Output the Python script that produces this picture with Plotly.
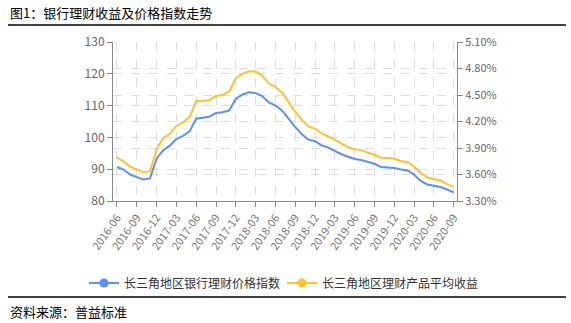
import pandas as pd
import plotly.graph_objects as go

# Monthly periods, 2016-06 .. 2020-09
months = [p.strftime("%Y-%m") for p in pd.period_range("2016-06", "2020-09", freq="M")]
tick_labels = months[::3]

# 长三角地区银行理财价格指数 (left axis)
price_index = [
    90.7, 89.9, 88.3, 87.5, 86.8, 87.1, 93.3, 96.0, 97.4, 99.5,
    100.5, 101.9, 105.9, 106.2, 106.5, 107.7, 107.9, 108.5, 112.1, 113.5,
    114.2, 114.0, 113.0, 111.0, 110.0, 108.5, 105.9, 103.2, 101.0, 99.3,
    98.8, 97.5, 96.8, 95.7, 94.7, 93.9, 93.2, 92.9, 92.3, 91.7,
    90.7, 90.6, 90.4, 89.9, 89.6, 88.3, 86.3, 85.2, 84.9, 84.4,
    83.6, 82.7,
]

# 长三角地区理财产品平均收益, % (right axis)
avg_yield = [
    3.79, 3.75, 3.69, 3.66, 3.625, 3.635, 3.89, 4.01, 4.06, 4.15,
    4.19, 4.25, 4.43, 4.435, 4.44, 4.49, 4.50, 4.54, 4.69, 4.74,
    4.77, 4.765, 4.72, 4.63, 4.59, 4.53, 4.42, 4.31, 4.22, 4.145,
    4.12, 4.065, 4.03, 3.995, 3.95, 3.91, 3.885, 3.876, 3.847, 3.826,
    3.79, 3.782, 3.78, 3.75, 3.743, 3.69, 3.62, 3.565, 3.545, 3.532,
    3.49, 3.46,
]
yield_ticks = [3.30, 3.60, 3.90, 4.20, 4.50, 4.80, 5.10]

series_names = ["长三角地区银行理财价格指数", "长三角地区理财产品平均收益"]
colors = ["#5B8FF9", "#FFC12E"]

FONT = "Noto Sans CJK SC"
W, H = 571, 323
L, R, T, B = 113, 114, 42, 122
PW, PH = W - L - R, H - T - B


def px_x(x):
    return (x - L) / PW


def px_y(y):
    return (H - B - y) / PH


fig = go.Figure()
fig.add_trace(go.Scatter(x=months, y=price_index, mode="lines",
                         line=dict(color=colors[0], width=2), showlegend=False))
fig.add_trace(go.Scatter(x=months, y=avg_yield, mode="lines", yaxis="y2",
                         line=dict(color=colors[1], width=2), showlegend=False))
# one legend box per series so both entries sit on a single row
for name, c, lg in zip(series_names, colors, ["legend", "legend2"]):
    fig.add_trace(go.Scatter(x=[None], y=[None], mode="lines+markers", name=name,
                             legend=lg, line=dict(color=c, width=2),
                             marker=dict(color=c, size=9)))

axis_common = dict(showline=True, linecolor="#888", linewidth=1,
                   ticks="outside", ticklen=5, tickcolor="#888",
                   gridcolor="#dedede", griddash="dash", gridwidth=1,
                   zeroline=False)

legend_common = dict(orientation="h", xanchor="left", yanchor="middle",
                     y=px_y(283), font=dict(family=FONT, size=12, color="#333"),
                     itemwidth=30, bgcolor="rgba(0,0,0,0)", borderwidth=0)

fig.update_layout(
    width=W, height=H,
    margin=dict(l=L, r=R, t=T, b=B, pad=0, autoexpand=False),
    paper_bgcolor="white", plot_bgcolor="white",
    font=dict(family=FONT),
    xaxis=dict(
        type="category", range=[-0.6, 51.5],
        tickvals=tick_labels, ticktext=tick_labels, tickangle=-55,
        tickfont=dict(family=FONT, size=11, color="#777"),
        **axis_common,
    ),
    yaxis=dict(range=[80, 130], dtick=10,
               tickfont=dict(family=FONT, size=12, color="#666"), **axis_common),
    yaxis2=dict(range=[3.30, 5.10], tickvals=yield_ticks,
                ticktext=[f"{v:.2f}%" for v in yield_ticks],
                overlaying="y", side="right",
                tickfont=dict(family=FONT, size=11, color="#666"), **axis_common),
    legend=dict(x=px_x(84), **legend_common),
    legend2=dict(x=px_x(282), **legend_common),
    showlegend=True,
    annotations=[
        dict(text="图1：银行理财收益及价格指数走势", xref="paper", yref="paper",
             x=px_x(8), y=px_y(12), xanchor="left", yanchor="middle", showarrow=False,
             font=dict(family=FONT, size=13, color="#000")),
        dict(text="资料来源：普益标准", xref="paper", yref="paper",
             x=px_x(8), y=px_y(311), xanchor="left", yanchor="middle", showarrow=False,
             font=dict(family=FONT, size=13, color="#000")),
    ],
    shapes=[
        dict(type="line", xref="paper", yref="paper", x0=px_x(8), x1=px_x(566),
             y0=px_y(25), y1=px_y(25), line=dict(color="#000", width=1.5)),
        dict(type="line", xref="paper", yref="paper", x0=px_x(8), x1=px_x(566),
             y0=px_y(297), y1=px_y(297), line=dict(color="#000", width=1.5)),
    ],
)

fig.write_html("out.html")
